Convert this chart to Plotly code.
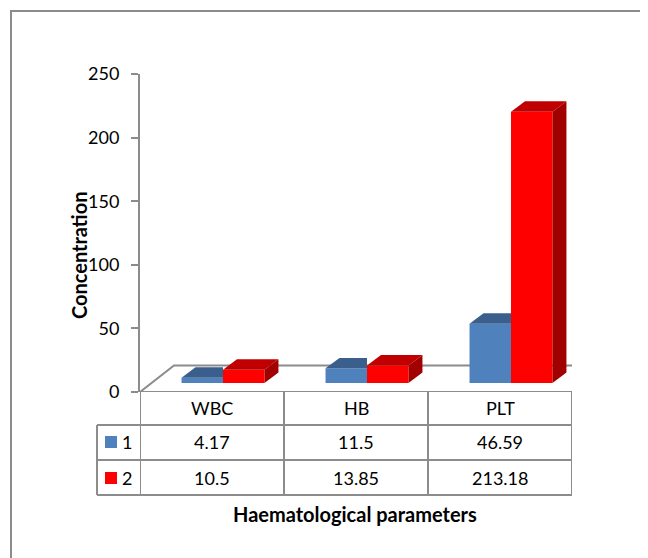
import plotly.graph_objects as go

# ---------------- data ----------------
categories = ["WBC", "HB", "PLT"]
series_names = ["1", "2"]
series1 = [4.17, 11.5, 46.59]
series2 = [10.5, 13.85, 213.18]
y_ticks = [0, 50, 100, 150, 200, 250]
y_title = "Concentration"
x_title = "Haematological parameters"

# ---------------- style ----------------
front_colors = ["#4F81BD", "#FF0000"]
top_colors = ["#3A5F8C", "#C00000"]
side_colors = ["#2E4B70", "#A00000"]
grey = "#8C8C8C"
FONT = "Lato"

W, H = 648, 558
OFF = 8  # page body margin


def px(x):
    return (x - OFF) / W


def py(y):
    return (H - (y - OFF)) / H


bar_w = 0.288          # width of one bar (category units)
depth_dx = 0.097       # 3-D depth of a bar (category units)
depth_dy = 8.25        # 3-D depth of a bar (value units)
floor_dx = 0.236       # depth of floor (category units)
floor_dy = 20.8        # depth of floor (value units)

fig = go.Figure()

# floor (front axes)
n = len(categories)
fig.add_trace(go.Scatter(
    x=[-0.5, n - 0.5, n - 0.5 + floor_dx, -0.5 + floor_dx, -0.5],
    y=[0, 0, floor_dy, floor_dy, 0],
    mode="lines", line=dict(color=grey, width=2),
    xaxis="x", yaxis="y", hoverinfo="skip", showlegend=False, cliponaxis=False))

# bars (bar plane axes, slightly behind the front plane)
xs = list(range(n))
fig.add_trace(go.Bar(x=xs, y=series1, offset=-bar_w, width=bar_w,
                     marker=dict(color=front_colors[0], line=dict(width=0)),
                     xaxis="x2", yaxis="y2", name=series_names[0], showlegend=False))
fig.add_trace(go.Bar(x=xs, y=series2, offset=0, width=bar_w,
                     marker=dict(color=front_colors[1], line=dict(width=0)),
                     xaxis="x2", yaxis="y2", name=series_names[1], showlegend=False))

# 3-D faces computed from values
for c, v in zip(xs, series1):
    # blue top (right part hidden behind neighbouring red bar)
    fig.add_trace(go.Scatter(
        x=[c - bar_w, c, c, c - bar_w + depth_dx, c - bar_w],
        y=[v, v, v + depth_dy, v + depth_dy, v],
        mode="lines", fill="toself", fillcolor=top_colors[0], line=dict(width=0),
        xaxis="x2", yaxis="y2", hoverinfo="skip", showlegend=False, cliponaxis=False))
for c, v in zip(xs, series2):
    fig.add_trace(go.Scatter(
        x=[c, c + bar_w, c + bar_w + depth_dx, c + depth_dx, c],
        y=[v, v, v + depth_dy, v + depth_dy, v],
        mode="lines", fill="toself", fillcolor=top_colors[1], line=dict(width=0),
        xaxis="x2", yaxis="y2", hoverinfo="skip", showlegend=False, cliponaxis=False))
    fig.add_trace(go.Scatter(
        x=[c + bar_w, c + bar_w + depth_dx, c + bar_w + depth_dx, c + bar_w, c + bar_w],
        y=[0, depth_dy, v + depth_dy, v, 0],
        mode="lines", fill="toself", fillcolor=side_colors[1], line=dict(width=0),
        xaxis="x2", yaxis="y2", hoverinfo="skip", showlegend=False, cliponaxis=False))

# ---------------- layout ----------------
shapes = []
# outer frame
shapes.append(dict(type="rect", xref="paper", yref="paper",
                   x0=px(11), x1=px(645), y0=py(590), y1=py(11),
                   line=dict(color=grey, width=2), layer="below"))
# data table lines
tl = dict(color=grey, width=2)
for yy in [425, 460, 495]:
    shapes.append(dict(type="line", xref="paper", yref="paper",
                       x0=px(97), x1=px(572), y0=py(yy), y1=py(yy), line=tl))
shapes.append(dict(type="line", xref="paper", yref="paper",
                   x0=px(97), x1=px(97), y0=py(425), y1=py(495), line=tl))
for k in range(n + 1):
    shapes.append(dict(type="line", xref="x", yref="paper",
                       x0=k - 0.5, x1=k - 0.5, y0=py(392), y1=py(495), line=tl))
# legend keys
for i, col in enumerate(front_colors):
    yc = [442, 478][i]
    shapes.append(dict(type="rect", xref="paper", yref="paper",
                       x0=px(105), x1=px(117), y0=py(yc + 6), y1=py(yc - 6),
                       fillcolor=col, line=dict(width=0)))

annotations = []
tfont = dict(family=FONT, size=18, color="#000000")
bfont = dict(family=FONT, size=20, color="#000000")
for k, cat in enumerate(categories):
    annotations.append(dict(x=k, y=py(408), xref="x", yref="paper", text=cat,
                            showarrow=False, font=tfont, xanchor="center", yanchor="middle"))
for row, vals in enumerate([series1, series2]):
    yc = [442, 478][row]
    for k, v in enumerate(vals):
        annotations.append(dict(x=k, y=py(yc), xref="x", yref="paper", text=str(v),
                                showarrow=False, font=tfont, xanchor="center", yanchor="middle"))
    annotations.append(dict(x=px(127), y=py(yc), xref="paper", yref="paper",
                            text=series_names[row], showarrow=False, font=tfont,
                            xanchor="center", yanchor="middle"))
annotations.append(dict(x=px(355), y=py(514), xref="paper", yref="paper",
                        text="<b>" + x_title + "</b>", showarrow=False, font=bfont,
                        xanchor="center", yanchor="middle"))
annotations.append(dict(x=px(79), y=py(255), xref="paper", yref="paper",
                        text="<b>" + y_title + "</b>", showarrow=False, font=bfont,
                        textangle=-90, xanchor="center", yanchor="middle"))

fig.update_layout(
    width=W, height=H,
    margin=dict(l=0, r=0, t=0, b=0, pad=0),
    paper_bgcolor="white", plot_bgcolor="rgba(0,0,0,0)",
    barmode="overlay",
    showlegend=False,
    xaxis=dict(domain=[px(140), px(572)], range=[-0.5, n - 0.5], visible=False,
               fixedrange=True, automargin=False),
    yaxis=dict(domain=[py(392), py(74)], range=[0, 250], anchor="x",
               tickvals=y_ticks, ticks="outside", ticklen=7, tickwidth=2,
               tickcolor=grey, showline=True, linecolor=grey, linewidth=2,
               showgrid=False, zeroline=False, automargin=False,
               tickfont=dict(family=FONT, size=18, color="#000000"),
               ticklabelstandoff=8),
    xaxis2=dict(domain=[px(151), px(583)], range=[-0.5, n - 0.5], visible=False,
                anchor="y2", automargin=False),
    yaxis2=dict(domain=[py(383), py(65)], range=[0, 250], visible=False,
                anchor="x2", automargin=False),
    shapes=shapes,
    annotations=annotations,
)

fig.write_html("out.html")
